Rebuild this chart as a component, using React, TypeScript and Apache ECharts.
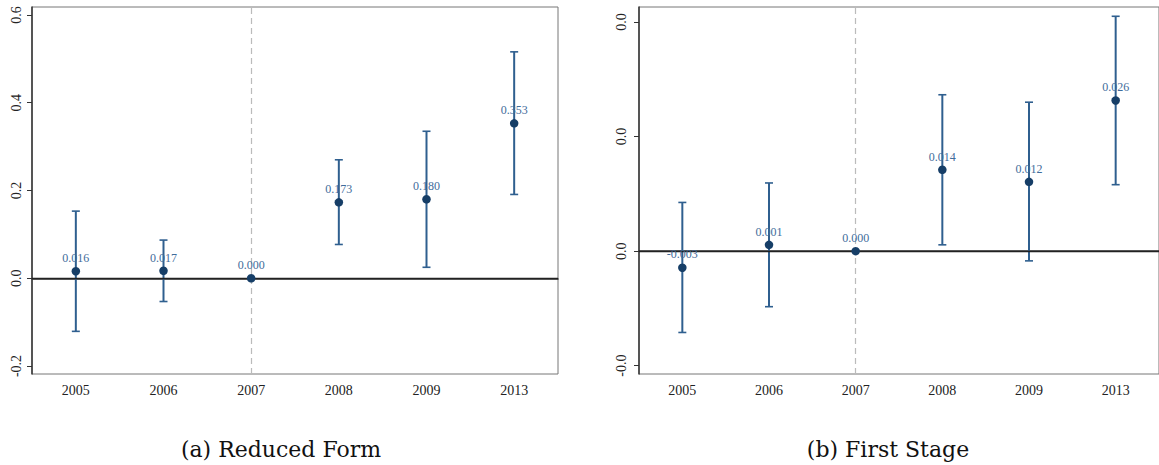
import React, { useEffect, useRef } from "react";
import * as echarts from "echarts";

const years = ["2005", "2006", "2007", "2008", "2009", "2013"];

const reducedCoef = [0.016, 0.017, 0.0, 0.173, 0.18, 0.353];
const reducedLow: (number | null)[] = [-0.121, -0.053, null, 0.077, 0.025, 0.191];
const reducedHigh: (number | null)[] = [0.153, 0.087, null, 0.27, 0.335, 0.516];

const firstCoef = [-0.0029, 0.0011, 0.0, 0.0142, 0.0121, 0.0263];
const firstLow: (number | null)[] = [-0.0142, -0.0097, null, 0.0011, -0.0017, 0.0116];
const firstHigh: (number | null)[] = [0.0085, 0.0119, null, 0.0273, 0.026, 0.041];

const captions = ["(a) Reduced Form", "(b) First Stage"];

const SERIF = "Liberation Serif";
const BAR_COLOR = "#2f5f8f";
const DOT_COLOR = "#163e67";
const LABEL_COLOR = "#3f6c9b";

function errorData(lo: (number | null)[], hi: (number | null)[]) {
  const out: any[] = [];
  lo.forEach((l, i) => {
    const h = hi[i];
    if (l !== null && h !== null) out.push([i, l, h]);
  });
  return out;
}

function renderBar(params: any, api: any) {
  const x = api.value(0);
  const lo = api.coord([x, api.value(1)]);
  const hi = api.coord([x, api.value(2)]);
  const w = 4;
  const style = { stroke: BAR_COLOR, lineWidth: 2 };
  return {
    type: "group",
    children: [
      { type: "line", shape: { x1: lo[0], y1: lo[1], x2: hi[0], y2: hi[1] }, style },
      { type: "line", shape: { x1: hi[0] - w, y1: hi[1], x2: hi[0] + w, y2: hi[1] }, style: { stroke: BAR_COLOR, lineWidth: 1.6 } },
      { type: "line", shape: { x1: lo[0] - w, y1: lo[1], x2: lo[0] + w, y2: lo[1] }, style: { stroke: BAR_COLOR, lineWidth: 1.6 } },
    ],
  };
}

export default function App() {
  const ref = useRef<HTMLDivElement>(null);
  useEffect(() => {
    if (!ref.current) return;
    const chart = echarts.init(ref.current, undefined, { renderer: "svg" });

    const xAxisBase = (gridIndex: number) => ({
      type: "category",
      gridIndex,
      data: years,
      boundaryGap: true,
      axisLine: { lineStyle: { color: "#333", width: 1.5 } },
      axisTick: { alignWithLabel: true, length: 5, lineStyle: { color: "#333", width: 1 } },
      axisLabel: { color: "#222", fontSize: 14, fontFamily: SERIF, margin: 9 },
      splitLine: { show: false },
    });
    const yAxisBase = (gridIndex: number, min: number, max: number, splitNumber: number, margin: number) => ({
      type: "value",
      gridIndex,
      min,
      max,
      splitNumber,
      axisLine: { show: true, lineStyle: { color: "#333", width: 1.5 } },
      axisTick: { show: true, length: 5, lineStyle: { color: "#333", width: 1 } },
      axisLabel: {
        color: "#222",
        fontSize: 14,
        fontFamily: SERIF,
        rotate: 90,
        margin,
        showMinLabel: false,
        showMaxLabel: false,
        formatter: (v: number) => v.toFixed(1),
      },
      splitLine: { show: false },
    });

    const refLines = (idx: number) => ({
      type: "line",
      xAxisIndex: idx,
      yAxisIndex: idx,
      data: [],
      z: 1,
      markLine: {
        silent: true,
        symbol: ["none", "none"],
        label: { show: false },
        data: [
          { yAxis: 0, lineStyle: { color: "#222", width: 1.3, type: "solid" } },
          { xAxis: "2007", lineStyle: { color: "#bbb", width: 1.2, type: [6, 4] } },
        ],
      },
    });

    const panel = (idx: number, coef: number[], lo: (number | null)[], hi: (number | null)[]) => [
      refLines(idx),
      {
        type: "custom",
        xAxisIndex: idx,
        yAxisIndex: idx,
        data: errorData(lo, hi),
        renderItem: renderBar,
        z: 2,
      },
      {
        type: "scatter",
        xAxisIndex: idx,
        yAxisIndex: idx,
        data: coef.map((v, i) => [i, v]),
        symbolSize: 8.5,
        itemStyle: { color: DOT_COLOR, opacity: 1 },
        z: 5,
        label: {
          show: true,
          position: "top",
          distance: 3,
          color: LABEL_COLOR,
          fontSize: 12,
          fontFamily: SERIF,
          formatter: (p: any) => p.value[1].toFixed(3),
        },
      },
    ];

    chart.setOption({
      animation: false,
      backgroundColor: "#fff",
      grid: [
        { left: 32, right: 601, top: 7, bottom: 91, show: true, borderColor: "#777", borderWidth: 1 },
        { left: 639, right: -6.5, top: 7, bottom: 91, show: true, borderColor: "#777", borderWidth: 1 },
      ],
      xAxis: [xAxisBase(0), xAxisBase(1)],
      yAxis: [yAxisBase(0, -0.2182, 0.6182, 4, 9), yAxisBase(1, -0.02145, 0.04262, 3, 11)],
      series: [...panel(0, reducedCoef, reducedLow, reducedHigh), ...panel(1, firstCoef, firstLow, firstHigh)],
      graphic: [
        {
          type: "text",
          x: 281,
          y: 449,
          style: { text: captions[0], fontSize: 22, fontFamily: "DejaVu Serif", fill: "#111", align: "center", verticalAlign: "middle" },
        },
        {
          type: "text",
          x: 888,
          y: 449,
          style: { text: captions[1], fontSize: 22, fontFamily: "DejaVu Serif", fill: "#111", align: "center", verticalAlign: "middle" },
        },
      ],
    });
    return () => chart.dispose();
  }, []);
  return <div ref={ref} style={{ position: "fixed", left: 0, top: 0, width: 1159, height: 465 }} />;
}
